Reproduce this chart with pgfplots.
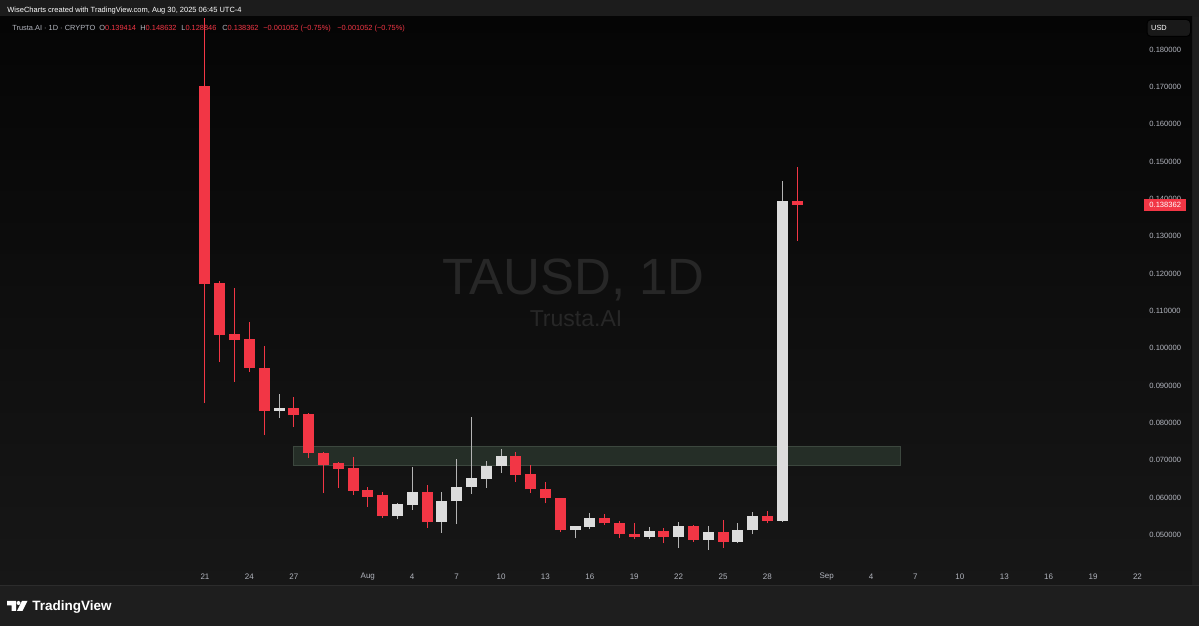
\documentclass[border=0pt]{standalone}
\usepackage{fontspec}
\setmainfont{Liberation Sans}
\usepackage{pgfplots}
\usepackage{pgfplotstable}
\pgfplotsset{compat=1.18}

\definecolor{tvred}{HTML}{F23645}
\definecolor{tvwhite}{HTML}{DCDCDC}
\definecolor{tvwick}{HTML}{B4B4B4}
\definecolor{tvgray}{HTML}{B2B5BE}
\definecolor{bandcol}{HTML}{1C1C1C}
\definecolor{basecol}{HTML}{1E1E1E}
\definecolor{panetop}{HTML}{050505}
\definecolor{panebot}{HTML}{171717}
\definecolor{sepcol}{HTML}{2C2C2C}
\definecolor{markcol}{HTML}{272727}
\definecolor{zonefill}{HTML}{252E27}
\definecolor{zoneedge}{HTML}{3C473E}

% day index: 0 = Jul 21, 2025
\pgfplotstableread{
d o h l c
0 0.1702 0.1885 0.0853 0.1172
1 0.1175 0.1180 0.0963 0.1035
2 0.1038 0.1161 0.0910 0.1022
3 0.1025 0.1070 0.0937 0.0947
4 0.0947 0.1006 0.0768 0.0832
6 0.0840 0.0870 0.0789 0.0821
7 0.0824 0.0826 0.0706 0.0720
8 0.0720 0.0722 0.0612 0.0687
9 0.0693 0.0696 0.0626 0.0677
10 0.0680 0.0709 0.0607 0.0618
11 0.0620 0.0629 0.0575 0.0602
12 0.0607 0.0614 0.0545 0.0551
15 0.0615 0.0634 0.0520 0.0535
21 0.0712 0.0722 0.0643 0.0661
22 0.0662 0.0687 0.0612 0.0622
23 0.0623 0.0643 0.0585 0.0598
24 0.0598 0.0600 0.0508 0.0513
27 0.0545 0.0556 0.0527 0.0531
28 0.0533 0.0537 0.0491 0.0503
29 0.0504 0.0531 0.0488 0.0495
31 0.0512 0.0518 0.0478 0.0495
33 0.0525 0.0526 0.0482 0.0487
35 0.0509 0.0540 0.0466 0.0482
38 0.0552 0.0565 0.0531 0.0538
40 0.139414 0.148632 0.128846 0.138362
}\redtab

\pgfplotstableread{
d o h l c
5 0.0832 0.0878 0.0813 0.0840
13 0.0552 0.0586 0.0542 0.0583
14 0.0580 0.0683 0.0567 0.0615
16 0.0535 0.0615 0.0506 0.0591
17 0.0591 0.0703 0.0529 0.0629
18 0.0628 0.0815 0.0610 0.0652
19 0.0651 0.0698 0.0626 0.0686
20 0.0685 0.0730 0.0666 0.0712
25 0.0513 0.0525 0.0491 0.0524
26 0.0522 0.0558 0.0515 0.0545
30 0.0495 0.0522 0.0489 0.0512
32 0.0495 0.0536 0.0465 0.0525
34 0.0487 0.0524 0.0460 0.0509
36 0.0482 0.0533 0.0479 0.0513
37 0.0513 0.0562 0.0502 0.0552
39 0.0538 0.1448 0.0535 0.1394
}\whitetab

\begin{document}
\begin{tikzpicture}
% background, 1px = 0.5pt, y counted from the bottom
\begin{scope}[x=0.5pt,y=0.5pt]
\path[use as bounding box] (0,0) rectangle (1199,626);
\fill[basecol] (0,0) rectangle (1199,626);
\fill[bandcol] (0,609) rectangle (1199,626);
\shade[top color=panetop, bottom color=panebot] (0,40) rectangle (1192,609);
\draw[sepcol, line width=0.5pt] (0,40) -- (1199,40);
% watermark
\node[anchor=base, inner sep=0pt, text=markcol, font=\fontsize{25.5}{26}\selectfont] at (573.5,331) {TAUSD, 1D};
\node[anchor=base, inner sep=0pt, text=markcol, font=\fontsize{11.5}{12}\selectfont] at (576,299) {Trusta.AI};
\end{scope}

\begin{axis}[
    at={(0pt,30.5pt)}, anchor=south west,
    scale only axis, width=570.5pt, height=274pt,
    xmin=-13.85, xmax=63.24,
    ymin=0.04197, ymax=0.18869,
    axis line style={draw=none}, tick style={draw=none},
    major tick length=0pt,
    xtick={0,3,6,11,14,17,20,23,26,29,32,35,38,42,45,48,51,54,57,60,63},
    xticklabels={21,24,27,Aug,4,7,10,13,16,19,22,25,28,Sep,4,7,10,13,16,19,22},
    xticklabel style={anchor=center, inner sep=0pt, yshift=-6pt, text=tvgray,
        font=\fontsize{4}{4.5}\selectfont},
    ytick={0.05,0.06,0.07,0.08,0.09,0.10,0.11,0.12,0.13,0.14,0.15,0.16,0.17,0.18},
    yticklabels={0.050000,0.060000,0.070000,0.080000,0.090000,0.100000,0.110000,
        0.120000,0.130000,0.140000,0.150000,0.160000,0.170000,0.180000},
    yticklabel pos=right,
    yticklabel style={anchor=west, inner sep=0pt, xshift=4pt, text=tvgray,
        font=\fontsize{3.8}{4.2}\selectfont},
    extra y ticks={0.138362},
    extra y tick labels={0.138362},
    extra y tick style={yticklabel style={fill=tvred, text=white, inner xsep=2.5pt,
        inner ysep=1.5pt, text height=2.8pt, text depth=0.2pt, xshift=-2.5pt}},
]
% resistance zone
\addplot[fill=zonefill, draw=zoneedge, line width=0.5pt]
    coordinates {(5.95,0.0685) (47.0,0.0685) (47.0,0.0736) (5.95,0.0736)} -- cycle;
% wicks
\addplot[draw=none, mark=none, error bars/.cd, y dir=plus, y explicit, error mark=none,
    error bar style={draw=tvred, line width=0.5pt}]
    table[x=d, y=l, y error expr=\thisrow{h}-\thisrow{l}] {\redtab};
\addplot[draw=none, mark=none, error bars/.cd, y dir=plus, y explicit, error mark=none,
    error bar style={draw=tvwick, line width=0.5pt}]
    table[x=d, y=l, y error expr=\thisrow{h}-\thisrow{l}] {\whitetab};
% bodies
\addplot[draw=none, mark=none, error bars/.cd, y dir=plus, y explicit, error mark=none,
    error bar style={draw=tvred, line width=5.5pt}]
    table[x=d, y=c, y error expr=\thisrow{o}-\thisrow{c}] {\redtab};
\addplot[draw=none, mark=none, error bars/.cd, y dir=plus, y explicit, error mark=none,
    error bar style={draw=tvwhite, line width=5.5pt}]
    table[x=d, y=o, y error expr=\thisrow{c}-\thisrow{o}] {\whitetab};
\end{axis}

\begin{scope}[x=0.5pt,y=0.5pt]
% header
\node[anchor=base west, inner sep=0pt, text=white, font=\fontsize{3.75}{4}\selectfont]
    at (7,613.5) {WiseCharts created with TradingView.com, Aug 30, 2025 06:45 UTC-4};
\begin{scope}[every node/.style={anchor=base west, inner sep=0pt, font=\fontsize{3.7}{4}\selectfont}]
\node[text=tvgray] at (12,595.5) {Trusta.AI · 1D · CRYPTO};
\node at (99,595.5) {\color{tvgray}O\color{tvred}0.139414};
\node at (140,595.5) {\color{tvgray}H\color{tvred}0.148632};
\node at (181,595.5) {\color{tvgray}L\color{tvred}0.128846};
\node at (222,595.5) {\color{tvgray}C\color{tvred}0.138362};
\node[text=tvred] at (263,595.5) {−0.001052 (−0.75\%)};
\node[text=tvred] at (337,595.5) {−0.001052 (−0.75\%)};
\end{scope}
% currency box
\draw[rounded corners=2pt, draw=sepcol!140, fill=black!90!white, line width=0.5pt]
    (1147,606.5) rectangle (1190.5,589.5);
\node[inner sep=0pt, text=white, font=\fontsize{3.7}{4}\selectfont] at (1159,598) {USD};
% TradingView logo
\fill[white] (7,25) -- (16,25) -- (16,15) -- (11.5,15) -- (11.5,20.5) -- (7,20.5) -- cycle;
\fill[white] (18.5,23) circle (2);
\fill[white] (22,25) -- (27.5,25) -- (22.5,15) -- (17,15) -- cycle;
\node[anchor=base west, inner sep=0pt, text=white, font=\fontsize{6.75}{7}\bfseries\selectfont]
    at (32,15) {TradingView};
\end{scope}
\end{tikzpicture}
\end{document}
